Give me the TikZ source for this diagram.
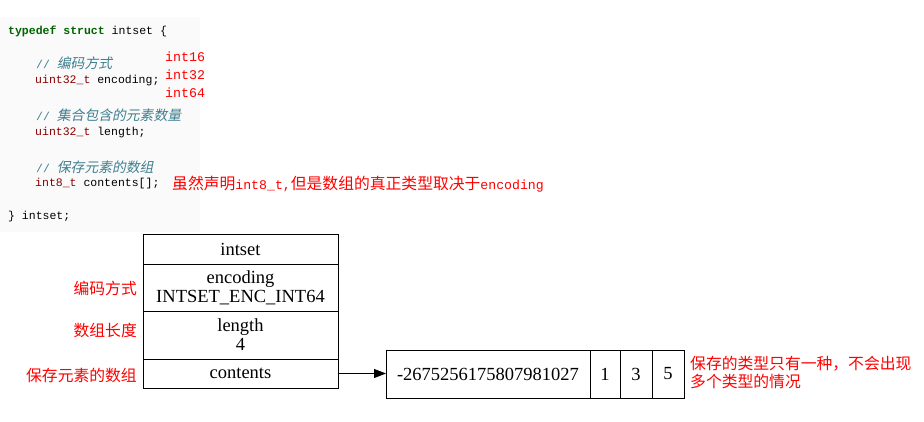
\documentclass[tikz,border=0pt]{standalone}
\usepackage{fontspec}
\setmainfont{Liberation Serif}
\setmonofont{Liberation Mono}
\newfontfamily\cjk{Noto Sans CJK SC}
\newfontfamily\cjkit[FakeSlant=0.2]{Noto Sans CJK SC}
\usetikzlibrary{arrows.meta,positioning}
\definecolor{kwgreen}{RGB}{0,100,0}
\definecolor{tyred}{RGB}{136,0,0}
\definecolor{cmteal}{RGB}{63,127,143}
\definecolor{codebg}{RGB}{250,250,250}
\definecolor{hint}{RGB}{255,0,0}
\newcommand{\cmtcjk}[1]{{\cjkit\fontsize{13.8}{14}\selectfont #1}}
\newcommand{\hintmono}[1]{{\ttfamily\fontsize{13.2}{18}\selectfont #1}}

\begin{document}
\begin{tikzpicture}[x=1pt,y=-1pt,
code/.style={anchor=west,inner sep=0pt,font=\ttfamily\fontsize{11.5}{12}\selectfont},
cmt/.style={code,text=cmteal},
hintred/.style={text=hint,inner sep=0pt,font=\cjk\fontsize{15.8}{18}\selectfont},
row/.style={draw,line width=0.8pt,minimum width=195pt,inner sep=0pt,outer sep=0pt,align=center,font=\fontsize{18.5}{19}\selectfont},
cell/.style={draw,line width=0.8pt,minimum height=48pt,inner sep=0pt,outer sep=0pt,font=\fontsize{18.5}{19}\selectfont},
arr/.style={-{Triangle[length=12pt,width=9pt]},line width=0.8pt}
]
\useasboundingbox (0,0) rectangle (924,421);

% code listing
\node[fill=codebg,minimum width=200pt,minimum height=215pt,inner sep=0pt,anchor=north west] (codebox) at (0,17) {};
\node[code] (ln1) at (8,31) {\textbf{\color{kwgreen}typedef struct} intset \{};
\node[cmt] (cm1) at (36,63) {// \cmtcjk{编码方式}};
\node[code] (ln2) at (35,81) {{\color{tyred}uint32\_t} encoding;};
\node[cmt] (cm2) at (36,115) {// \cmtcjk{集合包含的元素数量}};
\node[code] (ln3) at (35,133) {{\color{tyred}uint32\_t} length;};
\node[cmt] (cm3) at (36,167) {// \cmtcjk{保存元素的数组}};
\node[code] (ln4) at (35,184) {{\color{tyred}int8\_t} contents[];};
\node[code] (ln5) at (8,217) {\} intset;};

\node[text=hint,anchor=west,inner sep=0pt,align=left,font=\ttfamily\fontsize{13.3}{18}\selectfont] (enctypes) at (165,75) {int16\\int32\\int64};
\node[hintred,anchor=west] (note1) at (172,184) {虽然声明\hintmono{int8\_t,}但是数组的真正类型取决于\hintmono{encoding}};

% struct
\node[row,minimum height=30pt,anchor=north] (intset) at (240.5,234) {intset};
\node[row,minimum height=47pt,below=0pt of intset] (encoding) {encoding\\INTSET\_ENC\_INT64};
\node[row,minimum height=48pt,below=0pt of encoding] (length) {length\\4};
\node[row,minimum height=29pt,below=0pt of length] (contents) {contents};

\node[hintred,anchor=east] (lblenc) at (137,288) {编码方式};
\node[hintred,anchor=east] (lbllen) at (137,330) {数组长度};
\node[hintred,anchor=east] (lblcnt) at (137,375) {保存元素的数组};

% contents array
\node[cell,minimum width=204pt,anchor=north west] (big) at (386,350) {-2675256175807981027};
\node[cell,minimum width=30pt,right=0pt of big] (c1) {1};
\node[cell,minimum width=32pt,right=0pt of c1] (c3) {3};
\node[cell,minimum width=32pt,right=0pt of c3] (c5) {5};

\draw[arr] (contents.east) -- (contents.east -| big.west);

\node[hintred,anchor=west,align=left] (note2) at (690,372) {保存的类型只有一种，不会出现\\多个类型的情况};
\end{tikzpicture}
\end{document}
